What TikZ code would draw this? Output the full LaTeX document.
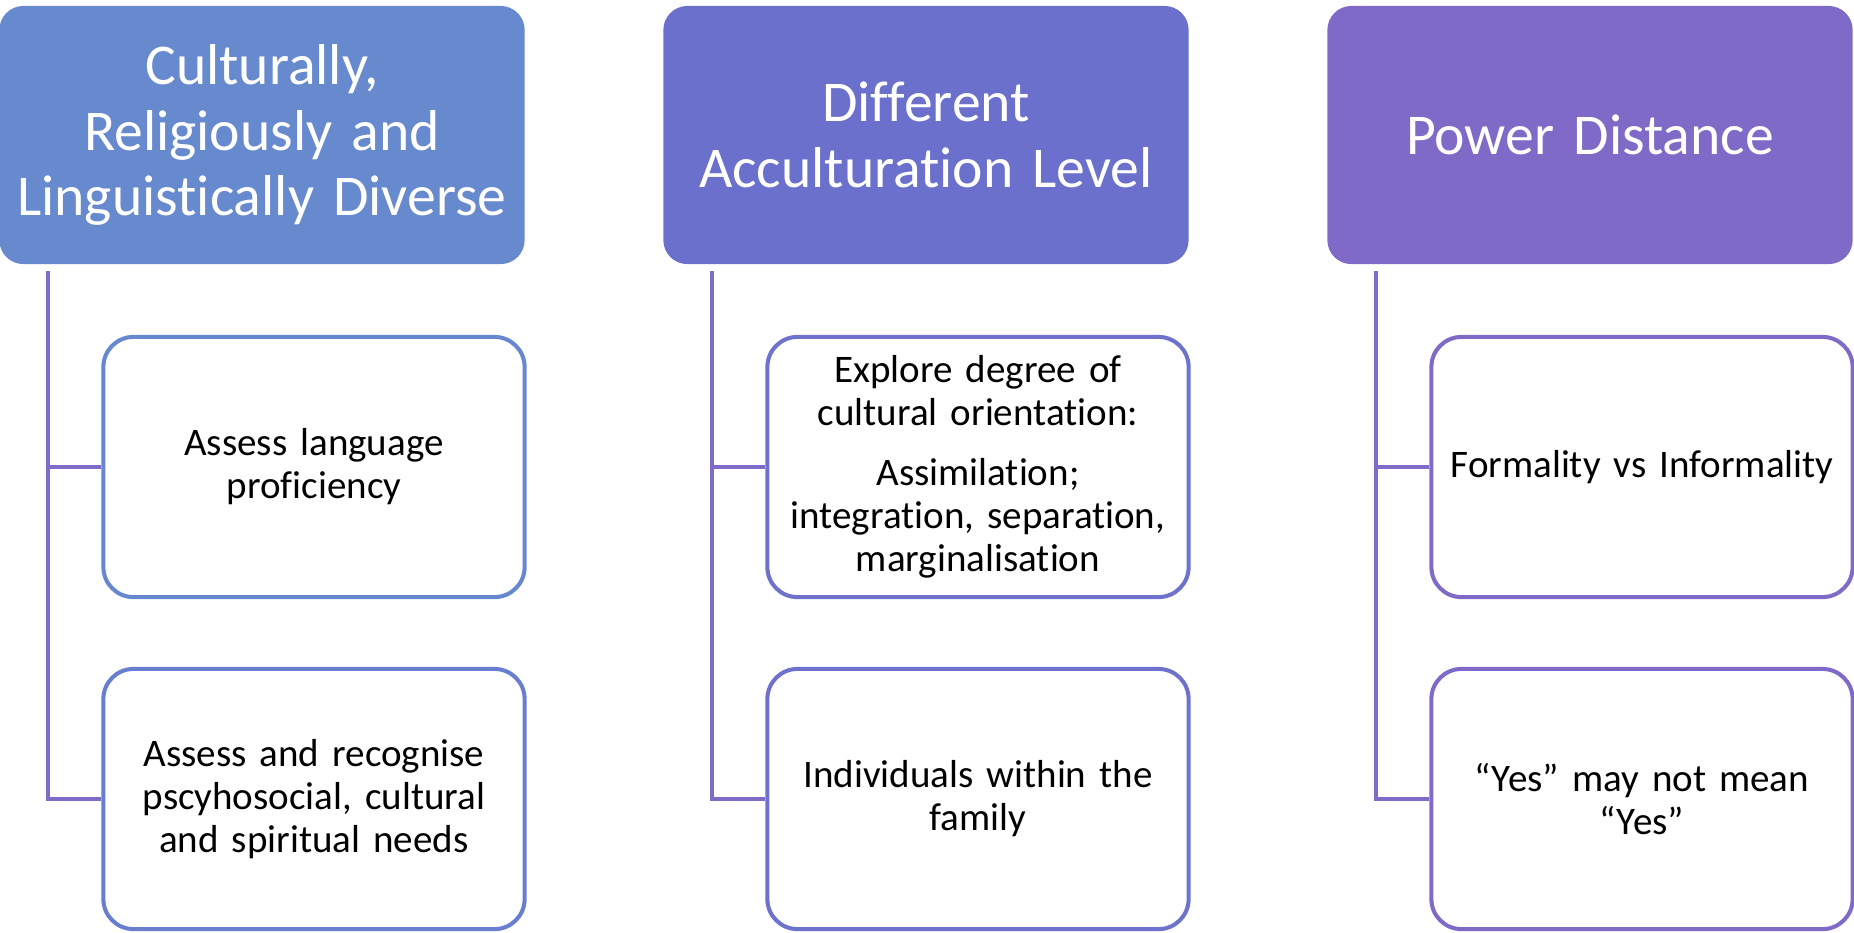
\documentclass[tikz,border=0pt]{standalone}
\usepackage{fontspec}
\setmainfont{Carlito}[Ligatures={TeX,NoCommon}]
\usepackage{tikz}

\definecolor{headA}{RGB}{103,137,206}
\definecolor{headB}{RGB}{106,112,203}
\definecolor{headC}{RGB}{127,107,199}
\definecolor{boxA}{RGB}{103,136,207}
\definecolor{boxAA}{RGB}{106,126,207}
\definecolor{boxB}{RGB}{110,114,204}
\definecolor{boxC}{RGB}{127,107,199}
\definecolor{linkcol}{RGB}{126,108,200}

\tikzset{
  head/.style={rectangle, rounded corners=0.24cm, draw=none, text=white,
    minimum width=5.25cm, minimum height=2.58cm, text width=5.1cm, align=center,
    font=\fontsize{16.4}{18.6}\selectfont, inner sep=0pt},
  item/.style={rectangle, rounded corners=0.3cm, fill=white, line width=1.15pt,
    minimum width=4.21cm, minimum height=2.6cm, text width=4.1cm, align=center,
    font=\fontsize{11.1}{12.2}\selectfont, inner sep=0pt},
  link/.style={draw=linkcol, line width=1.15pt}
}

\begin{document}
\begin{tikzpicture}[x=0.01cm, y=-0.01cm]
\useasboundingbox (0,0) rectangle (1854,932);

% header boxes
\node[head, fill=headA] (h1) at (262,135) {Culturally,\\Religiously and\\Linguistically Diverse};
\node[head, fill=headB] (h2) at (926,135) {Different\\Acculturation Level};
\node[head, fill=headC] (h3) at (1590,135) {Power Distance};

% items under each header
\node[item, draw=boxA] (c11) at (314,467) {Assess language\\proficiency};
\node[item, draw=boxAA] (c12) at (314,799) {Assess and recognise\\pscyhosocial, cultural\\and spiritual needs};

\node[item, draw=boxB] (c21) at (978,467) {Explore degree of\\cultural orientation:\\[0.17cm]Assimilation;\\integration, separation,\\marginalisation};
\node[item, draw=boxB] (c22) at (978,799) {Individuals within the\\family};

\node[item, draw=boxC] (c31) at (1642,467) {Formality vs Informality};
\node[item, draw=boxC] (c32) at (1642,799) {``Yes'' may not mean\\``Yes''};

% tree lines
\draw[link] ([xshift=0.49cm,yshift=-0.06cm]h1.south west) |- (c11.west);
\draw[link] ([xshift=0.49cm,yshift=-0.06cm]h1.south west) |- (c12.west);
\draw[link] ([xshift=0.49cm,yshift=-0.06cm]h2.south west) |- (c21.west);
\draw[link] ([xshift=0.49cm,yshift=-0.06cm]h2.south west) |- (c22.west);
\draw[link] ([xshift=0.49cm,yshift=-0.06cm]h3.south west) |- (c31.west);
\draw[link] ([xshift=0.49cm,yshift=-0.06cm]h3.south west) |- (c32.west);

\end{tikzpicture}
\end{document}
